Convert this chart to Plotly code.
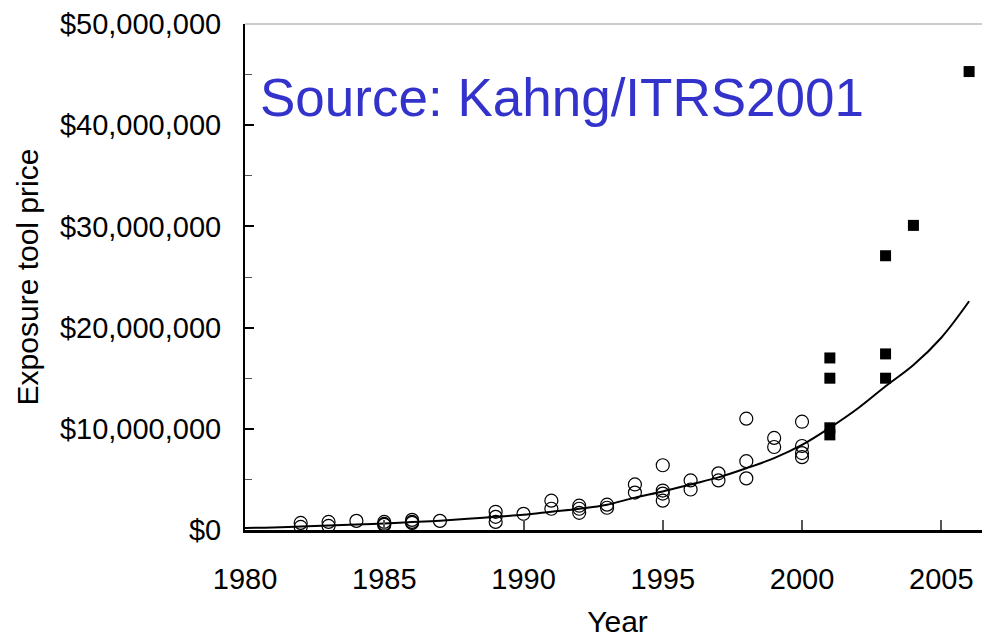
import plotly.graph_objects as go

# Open circles: historical exposure tool prices ($M)
circle_years = [1982, 1982, 1983, 1983, 1984, 1985, 1985, 1985, 1986, 1986, 1986, 1987,
                1989, 1989, 1989, 1990, 1991, 1991, 1992, 1992, 1992, 1993, 1993,
                1994, 1994, 1995, 1995, 1995, 1995, 1996, 1996, 1997, 1997,
                1998, 1998, 1998, 1999, 1999, 2000, 2000, 2000, 2000]
circle_prices_m = [0.7, 0.3, 0.8, 0.4, 0.9, 0.8, 0.6, 0.5, 1.0, 0.8, 0.7, 0.9,
                   1.8, 1.3, 0.8, 1.6, 2.9, 2.1, 2.4, 2.1, 1.7, 2.5, 2.2,
                   4.5, 3.7, 6.4, 3.9, 3.6, 2.9, 4.9, 4.0, 5.6, 4.9,
                   11.0, 6.8, 5.1, 9.1, 8.2, 10.7, 8.3, 7.6, 7.2]

# Filled squares: ITRS 2001 projections ($M)
square_years = [2001, 2001, 2001, 2001, 2003, 2003, 2003, 2004, 2006]
square_prices_m = [17.0, 15.0, 10.1, 9.4, 27.1, 17.4, 15.0, 30.1, 45.3]

# Trend curve ($M)
trend_years = list(range(1980, 2007))
trend_prices_m = [0.2, 0.25, 0.35, 0.45, 0.55, 0.65, 0.78, 0.92, 1.1, 1.3,
                  1.5, 1.8, 2.1, 2.5, 3.2, 3.8, 4.5, 5.2, 6.1, 7.1,
                  8.4, 10.1, 12.0, 14.2, 16.3, 19.0, 22.6]

y_tick_vals = [0, 10e6, 20e6, 30e6, 40e6, 50e6]
y_tick_text = ["$" + format(int(v), ",") for v in y_tick_vals]

M = 1e6
fig = go.Figure()
fig.add_trace(go.Scatter(
    x=trend_years, y=[v * M for v in trend_prices_m], mode="lines",
    line=dict(color="black", width=2, shape="spline"), showlegend=False,
    hoverinfo="skip"))
fig.add_trace(go.Scatter(
    x=circle_years, y=[v * M for v in circle_prices_m], mode="markers",
    marker=dict(symbol="circle-open", size=13, color="black", line=dict(width=1.2)),
    showlegend=False))
fig.add_trace(go.Scatter(
    x=square_years, y=[v * M for v in square_prices_m], mode="markers",
    marker=dict(symbol="square", size=11, color="black"),
    showlegend=False))

font_family = "Liberation Sans, Arial, sans-serif"

fig.update_layout(
    width=982, height=630,
    margin=dict(l=237, r=0, t=16, b=108),
    paper_bgcolor="white", plot_bgcolor="white",
    font=dict(family=font_family, color="black"),
    xaxis=dict(
        range=[1980, 2006.75], dtick=5, tick0=1980,
        showgrid=False, zeroline=False, automargin=False,
        showline=True, linecolor="black", linewidth=2.5,
        ticks="inside", ticklen=10, tickcolor="#555", tickwidth=1.5,
        tickfont=dict(size=29), ticklabelstandoff=21,
        title=dict(text="Year", font=dict(size=30), standoff=25),
    ),
    yaxis=dict(
        range=[0, 50e6], tickvals=y_tick_vals, ticktext=y_tick_text,
        showgrid=False, zeroline=False, automargin=False,
        showline=True, linecolor="black", linewidth=2,
        ticks="inside", ticklen=9, tickcolor="black", tickwidth=1.5,
        minor=dict(dtick=5e6, ticks="inside", ticklen=7, tickcolor="#555", tickwidth=1.2),
        tickfont=dict(size=29), ticklabelstandoff=16,
        title=dict(text="Exposure tool price", font=dict(size=30), standoff=12),
    ),
    shapes=[dict(type="line", xref="paper", yref="paper", x0=0, x1=1, y0=1, y1=1,
                 line=dict(color="#999", width=1))],
    annotations=[dict(
        text="Source: Kahng/ITRS2001", xref="paper", yref="paper",
        x=0.017, y=0.855, xanchor="left", yanchor="middle", showarrow=False,
        font=dict(size=53, color="#3333CC", family=font_family))],
)

fig.write_html("out.html")
